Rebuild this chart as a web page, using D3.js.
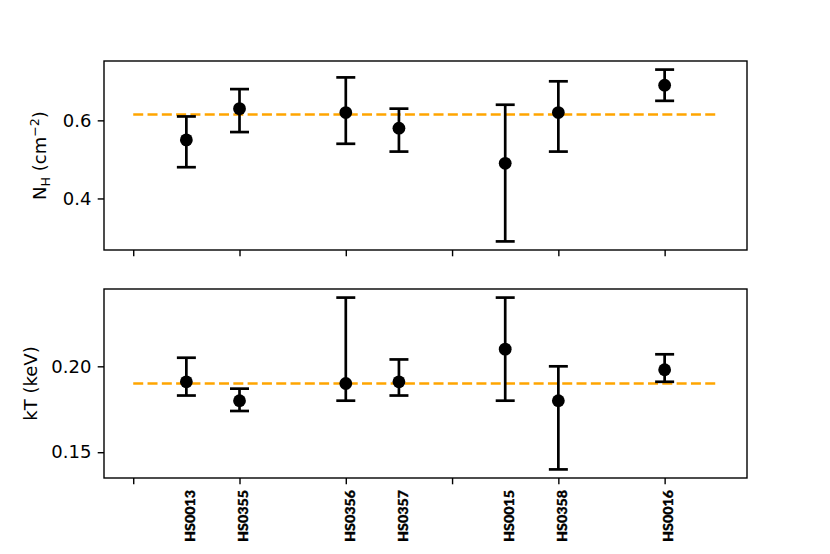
<!DOCTYPE html>
<html>
<head>
<meta charset="utf-8">
<script src="https://cdn.jsdelivr.net/npm/d3@7"></script>
<style>
  body { margin: 0; background: #fff; }
  text { font-family: "DejaVu Sans", sans-serif; }
</style>
</head>
<body>
<script>
// sources and their x slot
const sources = ['HS0013', 'HS0355', 'HS0356', 'HS0357', 'HS0015', 'HS0358', 'HS0016'];
const xPos = [1, 2, 4, 5, 7, 8, 10];

// column density N_H (1e22 cm^-2)
const nh = [0.55, 0.63, 0.62, 0.58, 0.49, 0.62, 0.69];
const nhLo = [0.48, 0.57, 0.54, 0.52, 0.29, 0.52, 0.65];
const nhHi = [0.61, 0.68, 0.71, 0.63, 0.64, 0.70, 0.73];
const nhMean = 0.615;

// temperature kT (keV)
const kt = [0.191, 0.180, 0.190, 0.191, 0.210, 0.180, 0.198];
const ktLo = [0.183, 0.174, 0.180, 0.183, 0.180, 0.140, 0.191];
const ktHi = [0.205, 0.187, 0.240, 0.204, 0.240, 0.200, 0.207];
const ktMean = 0.19;

const nhTicks = [0.4, 0.6];
const ktTicks = [0.15, 0.20];
const xTicks = [0, 2, 4, 6, 8, 10];

const W = 830, H = 554;
const left = 104, right = 747;

const svg = d3.select('body').append('svg')
    .attr('width', W)
    .attr('height', H);

const x = d3.scaleLinear().domain([-0.55, 11.55]).range([left, right]);

function panel(top, bottom, domain, vals, lo, hi, mean, ticks, fmt) {
  const y = d3.scaleLinear().domain(domain).range([bottom, top]);
  const g = svg.append('g');

  g.append('g')
      .attr('transform', `translate(${left},0)`)
      .call(d3.axisLeft(y).tickValues(ticks).tickFormat(d3.format(fmt))
        .tickSize(6.3).tickPadding(6.3))
      .call(a => a.select('.domain').remove())
      .call(a => a.selectAll('line').attr('stroke-width', 1.4))
      .call(a => a.selectAll('text').style('font-size', '18px')
        .attr('font-family', 'DejaVu Sans').attr('fill', '#000'));

  g.append('g')
      .attr('transform', `translate(0,${bottom})`)
      .call(d3.axisBottom(x).tickValues(xTicks).tickFormat('').tickSize(6.3))
      .call(a => a.select('.domain').remove())
      .call(a => a.selectAll('line').attr('stroke-width', 1.4));

  // mean line
  g.append('line')
      .attr('x1', x(0)).attr('x2', x(11))
      .attr('y1', y(mean)).attr('y2', y(mean))
      .attr('stroke', 'orange')
      .attr('stroke-width', 2.7)
      .attr('stroke-dasharray', '10,4.3');

  const idx = d3.range(vals.length);

  g.selectAll('.bar')
      .data(idx)
      .enter()
    .append('line')
      .attr('x1', i => x(xPos[i])).attr('x2', i => x(xPos[i]))
      .attr('y1', i => y(lo[i])).attr('y2', i => y(hi[i]))
      .attr('stroke', '#000').attr('stroke-width', 2.7);

  [lo, hi].forEach(arr => {
    g.selectAll(null)
        .data(idx)
        .enter()
      .append('line')
        .attr('x1', i => x(xPos[i]) - 9.5).attr('x2', i => x(xPos[i]) + 9.5)
        .attr('y1', i => y(arr[i])).attr('y2', i => y(arr[i]))
        .attr('stroke', '#000').attr('stroke-width', 2.7);
  });

  g.selectAll('circle')
      .data(idx)
      .enter()
    .append('circle')
      .attr('cx', i => x(xPos[i]))
      .attr('cy', i => y(vals[i]))
      .attr('r', 6.4)
      .attr('fill', '#000');

  g.append('rect')
      .attr('x', left).attr('y', top)
      .attr('width', right - left).attr('height', bottom - top)
      .attr('fill', 'none')
      .attr('stroke', '#000')
      .attr('stroke-width', 1.4);

  return y;
}

panel(61, 250, [0.268, 0.752], nh, nhLo, nhHi, nhMean, nhTicks, '.1f');
panel(289, 478, [0.135, 0.245], kt, ktLo, ktHi, ktMean, ktTicks, '.2f');

// y labels
const nhLabel = svg.append('text')
    .attr('transform', 'translate(46,155.5) rotate(-90)')
    .attr('text-anchor', 'middle')
    .style('font-size', '18px');
nhLabel.append('tspan').text('N');
nhLabel.append('tspan').text('H').style('font-size', '12.6px').attr('dy', 3.5);
nhLabel.append('tspan').text(' (cm').attr('dy', -3.5);
nhLabel.append('tspan').text('\u22122').style('font-size', '12.6px').attr('dy', -7);
nhLabel.append('tspan').text(')').attr('dy', 7);

svg.append('text')
    .attr('transform', 'translate(36.5,383.5) rotate(-90)')
    .attr('text-anchor', 'middle')
    .style('font-size', '18px')
    .text('kT (keV)');

// source names under the lower panel
svg.selectAll('.src')
    .data(sources)
    .enter()
  .append('text')
    .attr('class', 'src')
    .attr('transform', (d, i) => `translate(${x(xPos[i]) + 8.8},490) rotate(-90)`)
    .attr('text-anchor', 'end')
    .style('font-family', 'Lato, sans-serif')
    .style('font-weight', '900')
    .style('font-size', '13.5px')
    .attr('stroke', '#000')
    .attr('stroke-width', 0.35)
    .attr('textLength', 52)
    .attr('lengthAdjust', 'spacingAndGlyphs')
    .text(d => d);
</script>
</body>
</html>
